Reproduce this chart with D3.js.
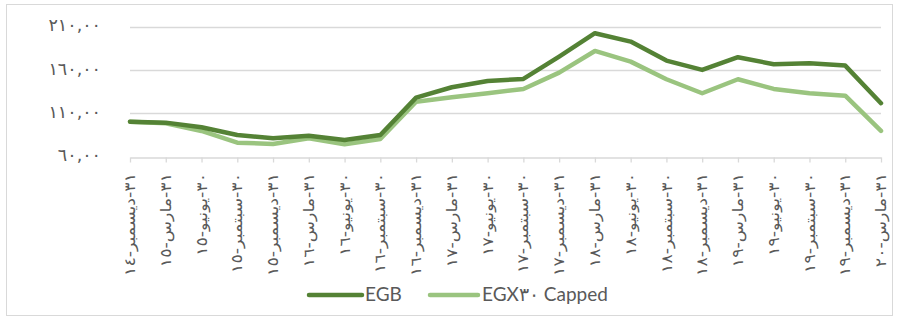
<!DOCTYPE html>
<html>
<head>
<meta charset="utf-8">
<script src="https://cdn.jsdelivr.net/npm/d3@7"></script>
<style>
  html, body { margin: 0; padding: 0; background: #fff; }
  svg { display: block; }
</style>
</head>
<body>
<svg id="chart" width="899" height="318"></svg>
<script>
const categories = [
  "٣١-ديسمبر-١٤","٣١-مارس-١٥","٣٠-يونيو-١٥","٣٠-سبتمبر-١٥",
  "٣١-ديسمبر-١٥","٣١-مارس-١٦","٣٠-يونيو-١٦","٣٠-سبتمبر-١٦",
  "٣١-ديسمبر-١٦","٣١-مارس-١٧","٣٠-يونيو-١٧","٣٠-سبتمبر-١٧",
  "٣١-ديسمبر-١٧","٣١-مارس-١٨","٣٠-يونيو-١٨","٣٠-سبتمبر-١٨",
  "٣١-ديسمبر-١٨","٣١-مارس-١٩","٣٠-يونيو-١٩","٣٠-سبتمبر-١٩",
  "٣١-ديسمبر-١٩","٣١-مارس-٢٠"
];
const egb = [100.4, 99.3, 94.0, 85.1, 81.3, 84.2, 79.3, 85.1, 128.1, 140.1, 147.4, 149.7,
             175.5, 202.5, 192.8, 170.9, 160.1, 174.8, 166.7, 167.8, 165.1, 121.7];
const egx30 = [100.4, 98.6, 89.7, 76.2, 74.7, 81.2, 74.3, 80.4, 123.5, 128.6, 133.2, 138.2,
               157.0, 182.0, 169.7, 149.4, 133.2, 149.4, 138.2, 133.2, 130.4, 89.7];
const yTicks = [60, 110, 160, 210];
const yTickLabels = ["٦٠,٠٠", "١١٠,٠٠", "١٦٠,٠٠", "٢١٠,٠٠"];
const seriesNames = ["EGB", "EGX٣٠ Capped"];

const colors = ["#548235", "#9ac47f"];
const svg = d3.select("#chart");

// outer border
svg.append("rect").attr("x", 6.5).attr("y", 4.5).attr("width", 886).attr("height", 311)
  .attr("fill", "#fff").attr("stroke", "#d9d9d9").attr("stroke-width", 1);

const x = d3.scalePoint().domain(categories).range([130, 881]);
const y = d3.scaleLinear().domain([60, 210]).range([156.7, 26.7]);

// gridlines
svg.append("g").selectAll("line").data(yTicks.slice(1)).join("line")
  .attr("x1", 130).attr("x2", 881)
  .attr("y1", d => Math.round(y(d)) + 0.5).attr("y2", d => Math.round(y(d)) + 0.5)
  .attr("stroke", "#d9d9d9").attr("stroke-width", 1.3);

// y labels
svg.append("g").selectAll("text").data(yTicks).join("text")
  .attr("transform", d => `translate(101,${y(d) - 1.5})`)
  .attr("text-anchor", "end").attr("dominant-baseline", "central")
  .attr("font-family", "DejaVu Sans").attr("font-size", 17.5).attr("fill", "#595959")
  .text((d, i) => yTickLabels[i]);

// x axis
const xAxis = d3.axisBottom(x).tickSize(5).tickSizeOuter(0).tickFormat("");
const gx = svg.append("g").attr("transform", `translate(0,${Math.round(y(60)) + 0.5})`).call(xAxis);
gx.select(".domain").attr("stroke", "#d9d9d9").attr("stroke-width", 1.3);
gx.selectAll(".tick line").attr("stroke", "#d9d9d9").attr("stroke-width", 1.3);

// x labels
svg.append("g").selectAll("text").data(categories).join("text")
  .attr("transform", d => `translate(${x(d)},173) rotate(-90) scale(1.16,1)`)
  .attr("text-anchor", "end").attr("dominant-baseline", "central")
  .attr("font-family", "DejaVu Sans").attr("font-size", 15).attr("fill", "#595959")
  .text(d => d);

// lines
const line = d3.line().x((d, i) => x(categories[i])).y(d => y(d));
[egx30, egb].forEach((s, k) => {
  const idx = k === 0 ? 1 : 0;
  svg.append("path").datum(s).attr("d", line)
    .attr("fill", "none").attr("stroke", colors[idx]).attr("stroke-width", 4.5)
    .attr("stroke-linejoin", "round").attr("stroke-linecap", "round");
});

// legend
const legend = [{x1: 309, x2: 362, tx: 365}, {x1: 430, x2: 478, tx: 482}];
legend.forEach((L, i) => {
  svg.append("line").attr("x1", L.x1).attr("x2", L.x2).attr("y1", 295).attr("y2", 295)
    .attr("stroke", colors[i]).attr("stroke-width", 4.5).attr("stroke-linecap", "round");
  svg.append("text").attr("x", L.tx).attr("y", 301)
    .attr("font-family", "Lato").attr("font-size", 19).attr("fill", "#595959")
    .text(seriesNames[i]);
});
</script>
</body>
</html>
